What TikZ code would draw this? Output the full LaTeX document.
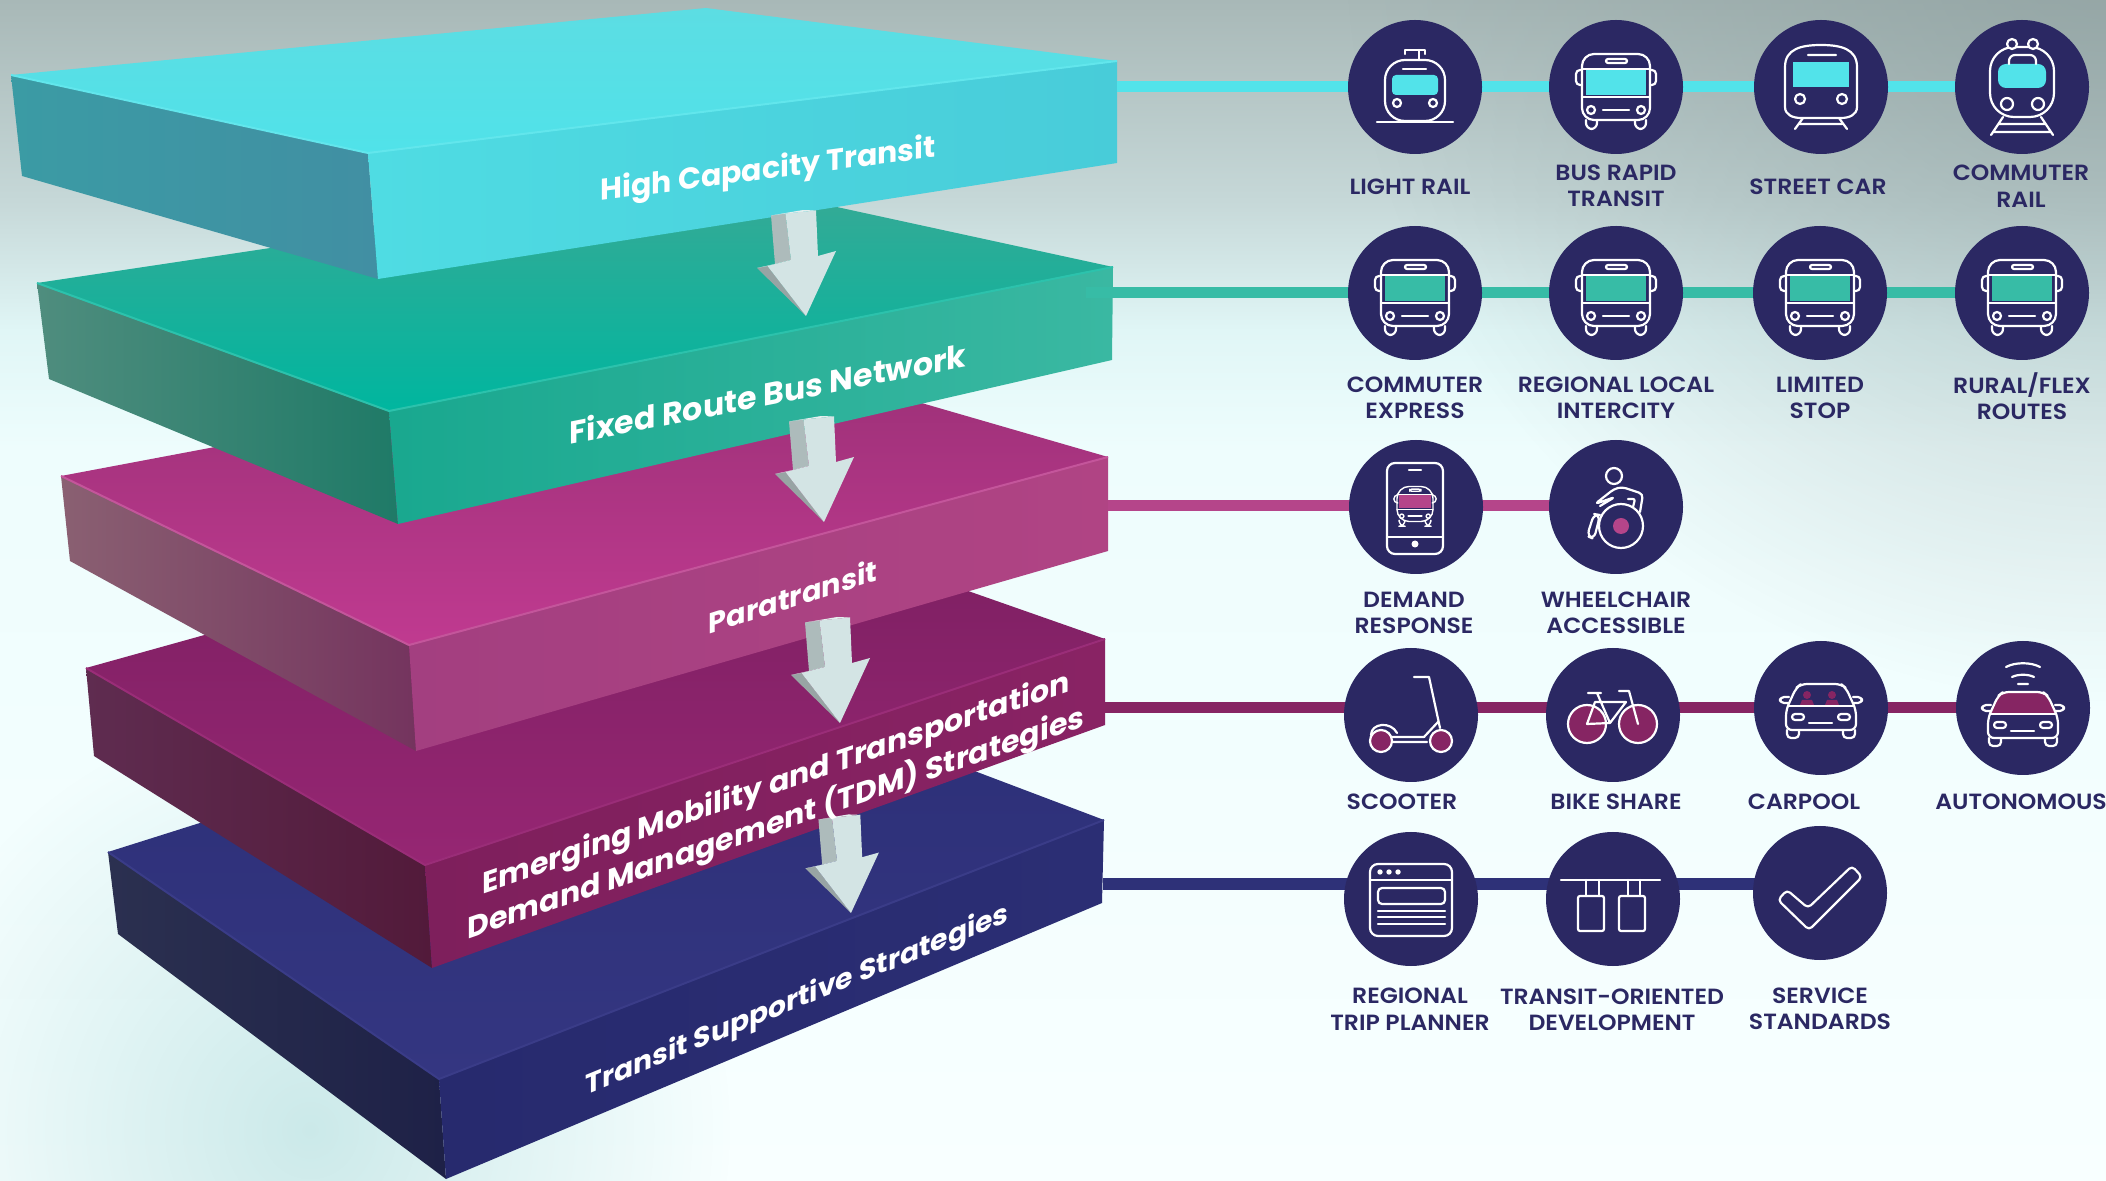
\documentclass[tikz,border=0pt]{standalone}
\usepackage{fontspec}
\setmainfont{Poppins}[BoldFont={Poppins SemiBold},FakeStretch=1.07]
\newfontfamily\slabfont{Poppins}[UprightFont={* Bold}]
\usetikzlibrary{arrows.meta,fadings}
\pgfdeclarelayer{backdrop}
\pgfdeclarelayer{icons}
\pgfsetlayers{backdrop,main,icons}
\definecolor{navy}{HTML}{2B2863}
\definecolor{hctline}{HTML}{52E3EA}
\definecolor{busline}{HTML}{37BCA6}
\definecolor{paraline}{HTML}{B5458A}
\definecolor{emline}{HTML}{862563}
\definecolor{tssline}{HTML}{2E3178}
\definecolor{skyA}{HTML}{A8B8B7}
\definecolor{skyB}{HTML}{C6D8D8}
\definecolor{skyC}{HTML}{E0F6F6}
\definecolor{skyD}{HTML}{EEFDFD}
\definecolor{skyE}{HTML}{F8FFFF}
\pgfdeclareverticalshading{backdropfade}{100bp}{color(0bp)=(skyE); color(25bp)=(skyE); color(56bp)=(skyD); color(61bp)=(skyC); color(66.5bp)=(skyB); color(75bp)=(skyA); color(100bp)=(skyA)}
\tikzfading[name=softspot,inner color=transparent!35,outer color=transparent!100]
% colours of one slab: back, front, left a, left b, side a, side b, edge
\newcommand{\slabcolors}[8]{%
  \definecolor{#1back}{HTML}{#2}\definecolor{#1front}{HTML}{#3}%
  \definecolor{#1lefta}{HTML}{#4}\definecolor{#1leftb}{HTML}{#5}%
  \definecolor{#1sidea}{HTML}{#6}\definecolor{#1sideb}{HTML}{#7}%
  \definecolor{#1edge}{HTML}{#8}}
\slabcolors{hct}{5CDDE3}{50E2E9}{3B9BA4}{418FA3}{4FDCE3}{48CCD9}{62E6EC}
\slabcolors{bus}{38A995}{00B69F}{4F8D7E}{1F7A67}{19A88F}{3AB8A2}{2CC2AC}
\slabcolors{para}{9A3076}{C03A90}{8A6072}{74345E}{A33F80}{B04484}{C4559B}
\slabcolors{em}{7A1F60}{962673}{5F2C50}{521A3A}{7E1F5C}{892364}{9A2D78}
\slabcolors{tss}{2C2F77}{343681}{2B3050}{1E2147}{272A6E}{2B2E74}{3A3C88}
% one slab from its corners: left, back, right, front, and the lower left, right, front
\newcommand{\slab}[8]{%
  \shade[top color=#8back,bottom color=#8front] (#1) -- (#2) -- (#3) -- (#4) -- cycle;
  \shade[left color=#8lefta,right color=#8leftb] (#1) -- (#4) -- (#7) -- (#5) -- cycle;
  \shade[left color=#8sidea,right color=#8sideb] (#4) -- (#3) -- (#6) -- (#7) -- cycle;
  \draw[#8edge,line width=1pt] (#1) -- (#4) -- (#3);
}
\tikzset{
  iconcirc/.style={circle,fill=navy,minimum size=67pt,inner sep=0pt},
  railline/.style={line width=5.5pt},
  iconstroke/.style={draw=white,line width=1.1pt,line cap=round,line join=round},
  stoplabel/.style={text=navy,font=\bfseries\fontsize{11}{13.25}\selectfont,align=center,inner sep=0pt},
  slabtext/.style={text=white,font=\slabfont\fontsize{#1}{20}\selectfont,align=center,inner sep=0pt},
  pics/lightrail/.style={code={
    \fill[#1,rounded corners=2pt] (-23,-12) rectangle (23,8);
    \draw[iconstroke,rounded corners=10pt] (-30,-27) rectangle (30,34);
    \draw[iconstroke] (-38,35) -- (38,35) (-12,-18) -- (11,-18) (4,-27) -- (4,-37) (-10,-33) -- (-10,-37) -- (10,-37) -- (10,-33);
    \draw[iconstroke] (-18,16) circle (4) (18,16) circle (4);
  }},
  pics/buspic/.style={code={
    \fill[#1] (-30,-18) rectangle (30,8);
    \draw[iconstroke,rounded corners=6pt] (-34,-33) rectangle (34,33);
    \draw[iconstroke] (-34,-18) -- (34,-18) (-34,10) -- (34,10) (-13,23) -- (13,23);
    \draw[iconstroke,rounded corners=1pt] (-10,-28) rectangle (11,-24);
    \draw[iconstroke,rounded corners=2pt] (-34,-17) -- (-40,-17) -- (-40,-2) -- (-34,-2) (34,-17) -- (40,-17) -- (40,-2) -- (34,-2);
    \draw[iconstroke,rounded corners=3pt] (-30,33) -- (-30,42) -- (-19,42) -- (-19,33) (30,33) -- (30,42) -- (19,42) -- (19,33);
    \draw[iconstroke] (-25,23) circle (4) (25,23) circle (4);
  }},
  pics/streetcar/.style={code={
    \fill[#1] (-28,-25) rectangle (28,0);
    \draw[iconstroke] (-36,20) -- (-36,-20) .. controls (-36,-38) and (-20,-42) .. (0,-42) .. controls (20,-42) and (36,-38) .. (36,-20) -- (36,20) .. controls (36,28) and (28,31) .. (20,31) -- (-20,31) .. controls (-28,31) and (-36,28) .. (-36,20) -- cycle;
    \draw[iconstroke] (-13,-32) -- (15,-32) (-18,31) -- (-26,42) (18,31) -- (26,42) (-21,37) -- (21,37);
    \draw[iconstroke] (-21,12) circle (5) (21,12) circle (5);
  }},
  pics/comrail/.style={code={
    \fill[#1,rounded corners=4pt] (-24,-23) rectangle (24,1);
    \draw[iconstroke,rounded corners=12pt] (-32,-40) rectangle (32,30);
    \draw[iconstroke,rounded corners=3pt] (-13,-23) -- (-13,-32) -- (14,-32) -- (14,-23);
    \fill[navy] (-10,-43) circle (5) (11,-43) circle (5);
    \draw[iconstroke] (-10,-43) circle (5) (11,-43) circle (5) (-15,17) circle (6) (16,17) circle (6);
    \draw[iconstroke] (-19,30) -- (-31,48) (19,30) -- (31,48) (-24,37) -- (24,37) (-29,45) -- (29,45);
  }},
  pics/phonepic/.style={code={
    \draw[iconstroke,rounded corners=4pt] (-29,-44) rectangle (27,47);
    \draw[iconstroke] (-7,-37) -- (5,-37) (-29,30) -- (27,30);
    \fill[white] (-1,37) circle (3.5);
    \pic[scale=.53,iconstroke/.append style={line width=.7pt}] at (-1,-3) {buspic=#1};
  }},
  pics/wheelpic/.style={code={
    \draw[iconstroke] (-2,-31) circle (8) (5,19) circle (22);
    \fill[#1] (5,19) circle (8);
    \draw[iconstroke,rounded corners=2pt] (-16,-1) -- (-1,-10) -- (-21,-3) -- (-2,-18) -- (6,-20) -- (27,-13) -- (24,5);
    \draw[iconstroke,rounded corners=1pt] (12,-8) -- (19,-8) -- (17,0);
    \draw[iconstroke,rounded corners=3pt] (-22,7) -- (-16,8) -- (-22,32) -- (-29,29) -- cycle;
  }},
  pics/scooterpic/.style={code={
    \fill[#1] (-30,26) circle (11) (30,26) circle (11);
    \draw[iconstroke] (-30,26) circle (11) (30,26) circle (11);
    \draw[iconstroke] (3,-38) -- (18,-38) -- (29,13) (-19,22) -- (13,22) -- (27,7) (-19,27) -- (16,27);
    \draw[iconstroke] (-40,20) .. controls (-40,8) and (-20,6) .. (-14,18);
  }},
  pics/bikepic/.style={code={
    \fill[#1] (-26,9) circle (19) (25,9) circle (19);
    \draw[iconstroke] (-26,9) circle (19) (25,9) circle (19);
    \draw[iconstroke] (-25,-22) -- (-12,-22) (-16,-22) -- (-3,8) -- (-26,9) -- (-18,-13) -- (13,-13) -- (-3,8);
    \draw[iconstroke] (6,-24) -- (16,-24) -- (25,9);
  }},
  pics/carshape/.style={code={
    \path[fill=#1] (-33,-2) -- (-25,-20) -- (-20,-24) -- (20,-24) -- (25,-20) -- (33,-2) -- cycle;
    \draw[iconstroke,rounded corners=3pt] (-35,22) -- (-35,2) -- (-25,-20) -- (-20,-24) -- (20,-24) -- (25,-20) -- (35,2) -- (35,22) -- cycle;
    \draw[iconstroke] (-33,-2) -- (33,-2) (-12,15) -- (11,15);
    \draw[iconstroke,rounded corners=2pt] (-34,22) -- (-34,30) -- (-22,30) -- (-22,22) (34,22) -- (34,30) -- (22,30) -- (22,22);
    \draw[iconstroke,rounded corners=2pt] (-32,-5) -- (-41,-5) -- (-41,-11) -- (-32,-11) (32,-5) -- (41,-5) -- (41,-11) -- (32,-11);
    \draw[iconstroke,rounded corners=1.5pt] (-29,6) rectangle (-17,12) (17,6) rectangle (29,12);
  }},
  pics/carpoolpic/.style={code={
    \pic at (0,0) {carshape=none};
    \fill[#1] (-14,-13) circle (4) (11,-13) circle (4) (-21,-3) -- (-19,-8) -- (-9,-8) -- (-7,-3) -- cycle (4,-3) -- (6,-8) -- (16,-8) -- (18,-3) -- cycle;
  }},
  pics/autopic/.style={code={
    \pic at (0,8) {carshape=#1};
    \draw[iconstroke] (-17,-41) .. controls (-8,-46) and (8,-46) .. (17,-41) (-11,-31) .. controls (-5,-34) and (5,-34) .. (11,-31) (-5,-24) -- (5,-24);
  }},
  pics/browserpic/.style={code={
    \draw[iconstroke,rounded corners=4pt] (-41,-35) rectangle (41,37);
    \draw[iconstroke] (-41,-19) -- (41,-19) (-33,12) -- (34,12) (-33,18) -- (34,18) (-33,25) -- (34,25);
    \draw[iconstroke,rounded corners=2pt] (-33,-11) rectangle (34,5);
    \fill[white] (-31,-27) circle (2.7) (-22,-27) circle (2.7) (-13,-27) circle (2.7);
  }},
  pics/todpic/.style={code={
    \draw[iconstroke] (-52,-19) -- (47,-19) (-27,-19) -- (-27,-3) (-14,-19) -- (-14,-3) (15,-19) -- (15,-3) (27,-19) -- (27,-3);
    \draw[iconstroke,rounded corners=1pt] (-35,-3) rectangle (-9,32) (6,-3) rectangle (32,32);
  }},
  pics/checkpic/.style={code={
    \draw[iconstroke,rounded corners=2pt] (-42,7) -- (-33,-3) -- (-12,15) -- (32,-27) -- (42,-16) -- (-11,37) -- cycle;
  }},
  pics/downarrow/.style={code={
    \fill[#1!82!black] (-35,-100.5) -- (-20.5,-102.5) -- (-15,-56) -- (-31,-52) -- cycle;
    \fill[#1!72!black] (-49,-48) -- (-38.5,-50) -- (0,0) -- cycle;
    \fill[#1!60!white] (-49,-48) -- (-31,-52) -- (-15,-56) -- (-38.5,-50) -- cycle;
    \fill[#1!60!white] (-35,-100.5) -- (-3,-106) -- (10,-105.5) -- (-20.5,-102.5) -- cycle;
    \fill[#1] (-20.5,-102.5) -- (10,-105.5) -- (12,-60) -- (30,-65) -- (0,0) -- (-38.5,-50) -- (-15,-56) -- cycle;
  }},
}
\definecolor{arrowface}{HTML}{D3E4E4}
\definecolor{skycorner}{HTML}{8A9C9C}
\definecolor{skyshadow}{HTML}{B4DEDE}
\begin{document}
\begin{tikzpicture}[x=0.5pt,y=-0.5pt]
\useasboundingbox (0,0) rectangle (2106,1181);
\begin{pgfonlayer}{backdrop}
  \shade[shading=backdropfade] (0,0) rectangle (2106,1181);
  \begin{scope}
    \clip (0,0) rectangle (2106,1181);
    \fill[skycorner,path fading=softspot] (2106,-60) circle (760);
    \fill[skyshadow,path fading=softspot] (310,1130) circle (420);
  \end{scope}
\end{pgfonlayer}

% stops
\begin{pgfonlayer}{icons}
  \node[iconcirc] (lightrail) at (1415,87) {};
  \node[iconcirc] (busrapid) at (1616,87) {};
  \node[iconcirc] (streetcar) at (1821,87) {};
  \node[iconcirc] (commuter) at (2022,87) {};
  \node[iconcirc] (express) at (1415,293) {};
  \node[iconcirc] (intercity) at (1616,293) {};
  \node[iconcirc] (limited) at (1820,293) {};
  \node[iconcirc] (ruralflex) at (2022,293) {};
  \node[iconcirc] (demand) at (1416,507) {};
  \node[iconcirc] (wheelchair) at (1616,507) {};
  \node[iconcirc] (scooter) at (1411,715) {};
  \node[iconcirc] (bikeshare) at (1613,715) {};
  \node[iconcirc] (carpool) at (1821,708) {};
  \node[iconcirc] (autonomous) at (2023,708) {};
  \node[iconcirc] (planner) at (1411,899) {};
  \node[iconcirc] (oriented) at (1613,899) {};
  \node[iconcirc] (standards) at (1820,893) {};

  \pic at (lightrail) {lightrail=hctline};
  \pic at (busrapid) {buspic=hctline};
  \pic at (streetcar) {streetcar=hctline};
  \pic at (commuter) {comrail=hctline};
  \pic at (express) {buspic=busline};
  \pic at (intercity) {buspic=busline};
  \pic at (limited) {buspic=busline};
  \pic at (ruralflex) {buspic=busline};
  \pic at (demand) {phonepic=paraline};
  \pic at (wheelchair) {wheelpic=paraline};
  \pic at (scooter) {scooterpic=emline};
  \pic at (bikeshare) {bikepic=emline};
  \pic at (carpool) {carpoolpic=emline};
  \pic at (autonomous) {autopic=emline};
  \pic at (planner) {browserpic};
  \pic at (oriented) {todpic};
  \pic at (standards) {checkpic};

  \node[stoplabel] (lbrail) at (1410,187) {LIGHT RAIL};
  \node[stoplabel] (lbbrt) at (1616,186) {BUS RAPID\\TRANSIT};
  \node[stoplabel] (lbstreet) at (1818,187) {STREET CAR};
  \node[stoplabel] (lbcommuter) at (2021,186) {COMMUTER\\RAIL};
  \node[stoplabel] (lbexpress) at (1415,398) {COMMUTER\\EXPRESS};
  \node[stoplabel] (lbinter) at (1616,398) {REGIONAL LOCAL\\INTERCITY};
  \node[stoplabel] (lblimited) at (1820,398) {LIMITED\\STOP};
  \node[stoplabel] (lbrural) at (2022,396) {RURAL/FLEX\\ROUTES};
  \node[stoplabel] (lbdemand) at (1414,613) {DEMAND\\RESPONSE};
  \node[stoplabel] (lbwheel) at (1616,613) {WHEELCHAIR\\ACCESSIBLE};
  \node[stoplabel] (lbscooter) at (1402,802) {SCOOTER};
  \node[stoplabel] (lbbike) at (1616,802) {BIKE SHARE};
  \node[stoplabel] (lbcarpool) at (1804,802) {CARPOOL};
  \node[stoplabel] (lbauto) at (2021,802) {AUTONOMOUS};
  \node[stoplabel] (lbplanner) at (1410,1009) {REGIONAL\\TRIP PLANNER};
  \node[stoplabel] (lboriented) at (1612,1010) {TRANSIT-ORIENTED\\DEVELOPMENT};
  \node[stoplabel] (lbstandards) at (1820,1009) {SERVICE\\STANDARDS};
\end{pgfonlayer}

% slabs, lowest first
\slab{108,852}{697,666}{1104,820}{439,1079}{118,934}{1102,903}{446,1179}{tss}
\slab{86,668}{700,497}{1105,639}{425,865}{94,756}{1105,725}{432,968}{em}
\slab{61,476}{735,349}{1108,457}{409,645}{70,561}{1108,551}{416,751}{para}
\slab{37,283}{717,181}{1113,267}{389,411}{49,379}{1112,360}{398,524}{bus}
\slab{11,75}{706,8}{1117,61}{368,153}{22,176}{1117,163}{378,279}{hct}

\pic at (806,316) {downarrow=arrowface};
\pic at (824,522) {downarrow=arrowface};
\pic at (840,723) {downarrow=arrowface};
\pic[scale=.93] at (851,913) {downarrow=arrowface};

\node[slabtext=15,yslant=.13] (hcttext) at (768,171) {High Capacity Transit};
\node[slabtext=15.8,yslant=.196] (bustext) at (768,393) {Fixed Route Bus Network};
\node[slabtext=14.4,yslant=.32] (paratext) at (793,596) {Paratransit};
\node[slabtext=15,yslant=.345] (emtext) at (776,805) {Emerging Mobility and Transportation\\Demand Management (TDM) Strategies};
\node[slabtext=14.1,yslant=.41] (tsstext) at (797,1001) {Transit Supportive Strategies};

% lines from the slabs to the stops
\coordinate (hctend) at (1117,87);
\coordinate (busend) at (1086,293);
\coordinate (paraend) at (1108,506);
\coordinate (emend) at (1105,708);
\coordinate (tssend) at (1103,884);
\draw[railline,hctline] (hctend) -- (hctend -| commuter);
\draw[railline,busline] (busend) -- (busend -| ruralflex);
\draw[railline,paraline] (paraend) -- (paraend -| wheelchair);
\draw[railline,emline] (emend) -- (emend -| autonomous);
\draw[railline,tssline] (tssend) -- (tssend -| standards);
\end{tikzpicture}
\end{document}
